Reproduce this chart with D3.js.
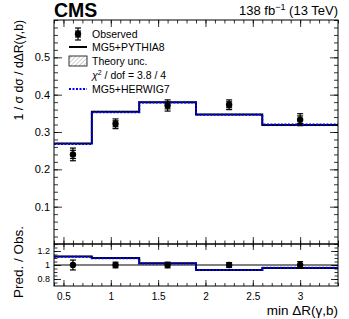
<!DOCTYPE html>
<html>
<head>
<meta charset="utf-8">
<script src="https://cdn.jsdelivr.net/npm/d3@7"></script>
<style>
body { margin: 0; background: #fff; }
text { font-family: "Liberation Sans", Arial, Helvetica, sans-serif; }
</style>
</head>
<body>
<script>
// bins in min dR(gamma,b)
const binEdges = [0.4, 0.8, 1.3, 1.9, 2.6, 3.4];
const binCenters = [0.6, 1.05, 1.6, 2.25, 3.0];
const observed = [0.240, 0.322, 0.371, 0.373, 0.333];
const obsTotErr = [0.017, 0.013, 0.015, 0.013, 0.016];
const obsStatErr = [0.011, 0.008, 0.009, 0.008, 0.010];
const pythia = [0.269, 0.354, 0.380, 0.347, 0.319];
const herwig = [0.268, 0.353, 0.379, 0.346, 0.320];
const theoryUnc = [0.004, 0.004, 0.004, 0.004, 0.004];
const xTicks = [0.5, 1, 1.5, 2, 2.5, 3];
const yTicks = [0.1, 0.2, 0.3, 0.4, 0.5];
const ratioTicks = [0.8, 1, 1.2];

const W = 349, H = 319;
const L = 54, R = 338, T = 20, MB = 244, RB = 286;

const svg = d3.select('body').append('svg')
    .attr('width', W).attr('height', H);

const defs = svg.append('defs');
const pat = defs.append('pattern')
    .attr('id', 'hatch').attr('patternUnits', 'userSpaceOnUse')
    .attr('width', 3).attr('height', 3)
    .attr('patternTransform', 'rotate(45)');
pat.append('line').attr('x1', 0).attr('y1', 0).attr('x2', 0).attr('y2', 3)
    .attr('stroke', '#888').attr('stroke-width', 0.8);

const x = d3.scaleLinear().domain([0.4, 3.4]).range([L, R]);
const y = d3.scaleLinear().domain([0, 0.6]).range([MB, T]);
const yr = d3.scaleLinear().domain([0.7, 1.3]).range([RB, MB]);

const ratio = (a) => a.map((v, i) => v / observed[i]);
const d3range = (a, b, s) => d3.range(Math.round((b - a) / s) + 1).map(i => +(a + i * s).toFixed(3));

// step line helper
function stepPts(vals) {
    const pts = vals.map((v, i) => [binEdges[i], v]);
    pts.push([binEdges[binEdges.length - 1], vals[vals.length - 1]]);
    return pts;
}

function drawPanel(ys, pyVals, hwVals, band, obsVals, obsErr, obsStat) {
    const g = svg.append('g');
    // theory band
    const area = d3.area().curve(d3.curveStepAfter)
        .x(d => x(d[0])).y0(d => ys(d[1] - d[2])).y1(d => ys(d[1] + d[2]));
    const bpts = pyVals.map((v, i) => [binEdges[i], v, band[i]]);
    bpts.push([binEdges[binEdges.length - 1], pyVals[pyVals.length - 1], band[band.length - 1]]);
    g.append('path').attr('d', area(bpts)).attr('fill', 'url(#hatch)');

    const line = d3.line().curve(d3.curveStepAfter).x(d => x(d[0])).y(d => ys(d[1]));
    g.append('path').attr('d', line(stepPts(pyVals)))
        .attr('fill', 'none').attr('stroke', '#000').attr('stroke-width', 2);
    g.append('path').attr('d', line(stepPts(hwVals)))
        .attr('fill', 'none').attr('stroke', '#0000ff').attr('stroke-width', 2)
        .attr('stroke-dasharray', '2,1.5');

    // observed points
    const pts = g.selectAll('g.obs').data(obsVals).enter().append('g');
    pts.append('line')
        .attr('x1', (d, i) => x(binCenters[i])).attr('x2', (d, i) => x(binCenters[i]))
        .attr('y1', (d, i) => ys(d - obsErr[i])).attr('y2', (d, i) => ys(d + obsErr[i]))
        .attr('stroke', '#000').attr('stroke-width', 1.2);
    [1, -1].forEach(s => {
        pts.append('line')
            .attr('x1', (d, i) => x(binCenters[i]) - 3).attr('x2', (d, i) => x(binCenters[i]) + 3)
            .attr('y1', (d, i) => ys(d + s * obsErr[i])).attr('y2', (d, i) => ys(d + s * obsErr[i]))
            .attr('stroke', '#000').attr('stroke-width', 1.2);
        if (obsStat) pts.append('line')
            .attr('x1', (d, i) => x(binCenters[i]) - 3).attr('x2', (d, i) => x(binCenters[i]) + 3)
            .attr('y1', (d, i) => ys(d + s * obsStat[i])).attr('y2', (d, i) => ys(d + s * obsStat[i]))
            .attr('stroke', '#000').attr('stroke-width', 1.2);
    });
    pts.append('circle')
        .attr('cx', (d, i) => x(binCenters[i])).attr('cy', d => ys(d))
        .attr('r', 3.2).attr('fill', '#000');
    return g;
}

// ratio reference line
svg.append('line').attr('x1', L).attr('x2', R).attr('y1', yr(1)).attr('y2', yr(1))
    .attr('stroke', '#000').attr('stroke-width', 1);

drawPanel(y, pythia, herwig, theoryUnc, observed, obsTotErr, obsStatErr);
drawPanel(yr, ratio(pythia), ratio(herwig), theoryUnc.map((u, i) => u / observed[i]),
    observed.map(() => 1), obsTotErr.map((e, i) => e / observed[i]), null);

// axes, ROOT style inward ticks
function axis(gen, scale, ticks, size, fmt, tx, ty, fs) {
    const a = svg.append('g').attr('transform', `translate(${tx},${ty})`)
        .call(gen(scale).tickValues(ticks).tickSize(size).tickPadding(4)
            .tickFormat(fmt ? fmt : ''));
    a.select('.domain').remove();
    a.selectAll('line').attr('stroke', '#000').attr('stroke-width', 0.8);
    a.selectAll('text').attr('fill', '#000').attr('font-size', fs || 11)
        .attr('font-family', '"Liberation Sans", Arial, sans-serif');
    return a;
}
const xMinor = d3range(0.4, 3.4, 0.1);
// main panel
axis(d3.axisBottom, x, xTicks, -7, null, 0, MB);
axis(d3.axisBottom, x, xMinor, -3.5, null, 0, MB);
axis(d3.axisTop, x, xTicks, -7, null, 0, T);
axis(d3.axisTop, x, xMinor, -3.5, null, 0, T);
axis(d3.axisLeft, y, yTicks, -8, d => d3.format('.1f')(d), L, 0, 11);
axis(d3.axisLeft, y, d3range(0, 0.6, 0.02), -4, null, L, 0);
axis(d3.axisRight, y, yTicks, -8, null, R, 0);
axis(d3.axisRight, y, d3range(0, 0.6, 0.02), -4, null, R, 0);
// ratio panel
axis(d3.axisBottom, x, xTicks, -6, d => d, 0, RB, 10).selectAll('text').attr('dy', '0.95em');
axis(d3.axisBottom, x, xMinor, -3, null, 0, RB);
axis(d3.axisTop, x, xTicks, -6, null, 0, MB);
axis(d3.axisTop, x, xMinor, -3, null, 0, MB);
axis(d3.axisLeft, yr, ratioTicks, -7, d => d, L, 0, 9);
axis(d3.axisLeft, yr, d3range(0.75, 1.25, 0.05), -3.5, null, L, 0);
axis(d3.axisRight, yr, ratioTicks, -7, null, R, 0);
axis(d3.axisRight, yr, d3range(0.75, 1.25, 0.05), -3.5, null, R, 0);

// frames
[[T, MB], [MB, RB]].forEach(([a, b]) => {
    svg.append('rect').attr('x', L).attr('y', a).attr('width', R - L).attr('height', b - a)
        .attr('fill', 'none').attr('stroke', '#000').attr('stroke-width', 1);
});

// titles
svg.append('text').attr('x', L).attr('y', 17).attr('font-size', 19.5)
    .attr('font-weight', 'bold').text('CMS');
const lumi = svg.append('text').attr('x', R).attr('y', 15).attr('font-size', 13)
    .attr('text-anchor', 'end');
lumi.append('tspan').text('138 fb');
lumi.append('tspan').attr('dy', -5).attr('font-size', 9).text('\u22121');
lumi.append('tspan').attr('dy', 5).text(' (13 TeV)');

svg.append('text').attr('transform', `translate(23,${T}) rotate(-90)`)
    .attr('text-anchor', 'end').attr('font-size', 12.2)
    .text('1 / \u03c3  d\u03c3 / d\u0394R(\u03b3,b)');
svg.append('text').attr('transform', `translate(23,262) rotate(-90)`)
    .attr('text-anchor', 'middle').attr('font-size', 13.5)
    .text('Pred. / Obs.');
svg.append('text').attr('x', R).attr('y', 315).attr('text-anchor', 'end')
    .attr('font-size', 13.5).text('min \u0394R(\u03b3,b)');

// legend
const leg = svg.append('g').attr('font-size', 10.5);
const lx0 = 69, lx1 = 87, ltx = 92;
const rows = [34, 47, 61, 75, 89];
leg.append('line').attr('x1', 78).attr('x2', 78).attr('y1', rows[0] - 6).attr('y2', rows[0] + 6)
    .attr('stroke', '#000').attr('stroke-width', 1.2);
[-6, -3, 3, 6].forEach(o => leg.append('line').attr('x1', 75).attr('x2', 81)
    .attr('y1', rows[0] + o).attr('y2', rows[0] + o).attr('stroke', '#000').attr('stroke-width', 1.2));
leg.append('circle').attr('cx', 78).attr('cy', rows[0]).attr('r', 3.2);
leg.append('line').attr('x1', lx0).attr('x2', lx1).attr('y1', rows[1]).attr('y2', rows[1])
    .attr('stroke', '#000').attr('stroke-width', 2);
leg.append('rect').attr('x', lx0).attr('y', rows[2] - 5).attr('width', lx1 - lx0).attr('height', 10)
    .attr('fill', 'url(#hatch)').attr('stroke', '#000').attr('stroke-width', 0.8);
leg.append('line').attr('x1', lx0).attr('x2', lx1).attr('y1', rows[4]).attr('y2', rows[4])
    .attr('stroke', '#0000ff').attr('stroke-width', 2).attr('stroke-dasharray', '2,1.5');
const labels = ['Observed', 'MG5+PYTHIA8', 'Theory unc.', null, 'MG5+HERWIG7'];
labels.forEach((t, i) => {
    if (t) leg.append('text').attr('x', ltx).attr('y', rows[i]).attr('dy', '0.35em').text(t);
});
const chi = leg.append('text').attr('x', ltx).attr('y', rows[3]).attr('dy', '0.35em');
chi.append('tspan').attr('font-style', 'italic').text('\u03c7');
chi.append('tspan').attr('dy', -4).attr('font-size', 7).text('2');
chi.append('tspan').attr('dy', 4).text(' / dof = 3.8 / 4');
</script>
</body>
</html>
